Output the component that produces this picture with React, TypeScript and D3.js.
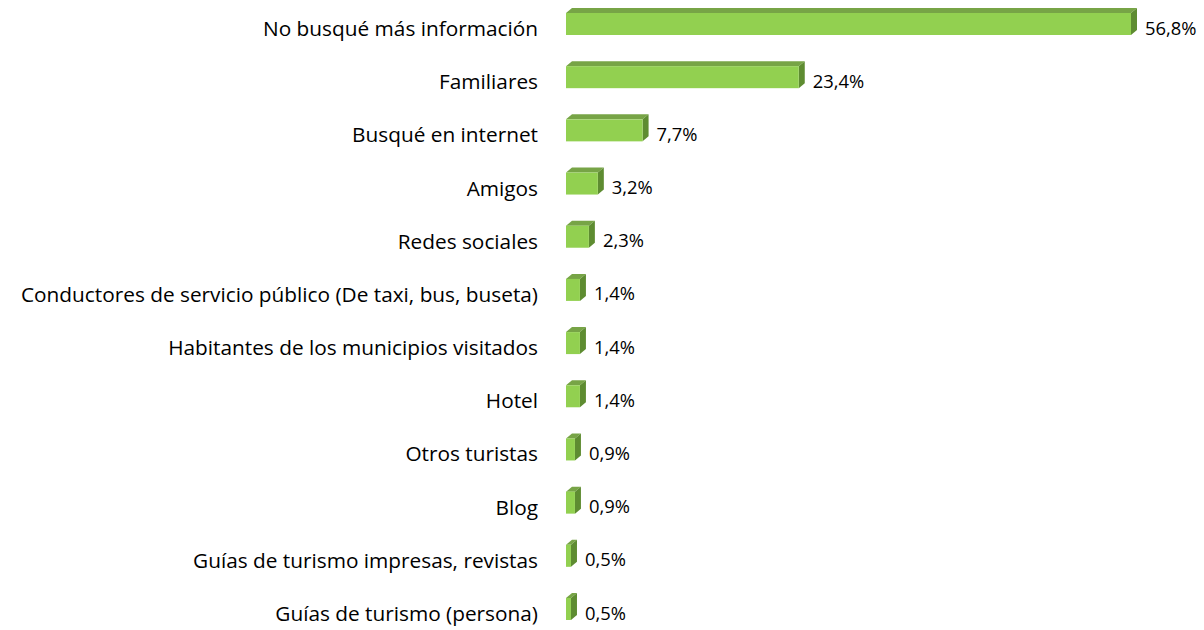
import React from 'react';
import * as d3 from 'd3';

const categories = [
  'No busqué más información',
  'Familiares',
  'Busqué en internet',
  'Amigos',
  'Redes sociales',
  'Conductores de servicio público (De taxi, bus, buseta)',
  'Habitantes de los municipios visitados',
  'Hotel',
  'Otros turistas',
  'Blog',
  'Guías de turismo impresas, revistas',
  'Guías de turismo (persona)',
];
const values = [56.8, 23.4, 7.7, 3.2, 2.3, 1.4, 1.4, 1.4, 0.9, 0.9, 0.5, 0.5];
const valueLabels = ['56,8%', '23,4%', '7,7%', '3,2%', '2,3%', '1,4%', '1,4%', '1,4%', '0,9%', '0,9%', '0,5%', '0,5%'];

const W = 1204, H = 630;
const x0 = 566;
const dx = 6, dy = 5; // 3d depth
const barH = 22;

export default function App() {
  const x = d3.scaleLinear().domain([0, 56.8]).range([x0, 1131]);
  const y = d3.scalePoint<string>().domain(categories).range([27, 612]);

  return (
    <svg width={W} height={H} style={{ position: 'absolute', left: 0, top: 0 }}
      fontFamily="'Open Sans', sans-serif">
      {categories.map((c, i) => {
        const cy = y(c)!;
        const top = cy - 14;
        const bot = top + barH;
        const xe = x(values[i]);
        return (
          <g key={c}>
            {/* top face */}
            <polygon points={`${x0},${top} ${x0 + dx},${top - dy} ${xe + dx},${top - dy} ${xe},${top}`}
              fill="#77a446" />
            {/* side face */}
            <polygon points={`${xe},${top} ${xe + dx},${top - dy} ${xe + dx},${bot - dy} ${xe},${bot}`}
              fill="#5e8c31" />
            {/* front face */}
            <rect x={x0} y={top} width={xe - x0} height={barH} fill="#92d050" />
            <text x={538} y={cy + 1} textAnchor="end" dominantBaseline="central" fontSize={20.8} fill="#000">{c}</text>
            <text x={xe + dx + 8} y={cy} dominantBaseline="central" fontSize={18.4} fill="#000">{valueLabels[i]}</text>
          </g>
        );
      })}
    </svg>
  );
}
